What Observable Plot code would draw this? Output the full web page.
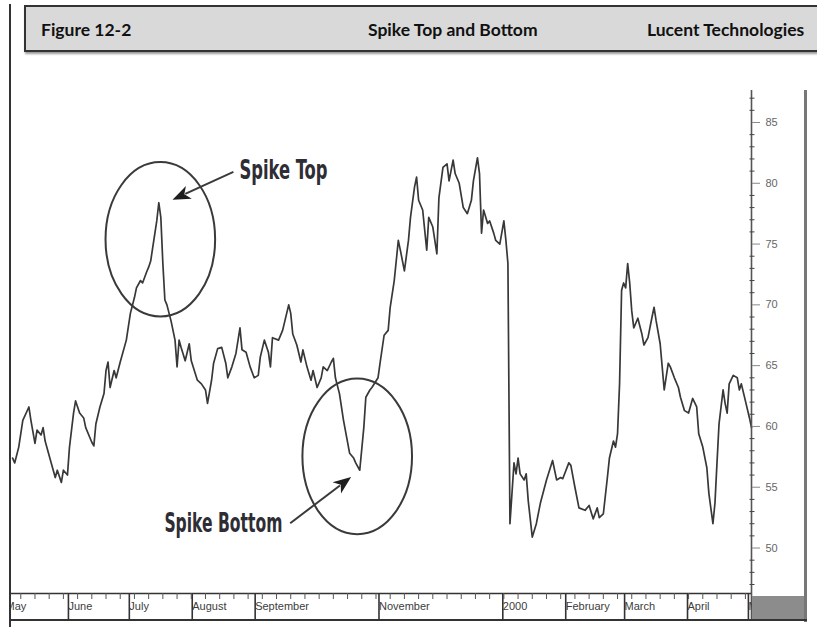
<!DOCTYPE html>
<html><head><meta charset="utf-8">
<script src="https://cdn.jsdelivr.net/npm/d3@7"></script>
<script src="https://cdn.jsdelivr.net/npm/@observablehq/plot@0.6"></script>
<style>
body{margin:0;background:#fff;}
#wrap{position:relative;width:817px;height:627px;overflow:hidden;background:#fff;}
#hdr{position:absolute;left:24px;top:5px;width:820px;height:43px;background:#d9d9d9;border:2px solid #333;box-shadow:1px 2px 2px #999;}
.ht{position:absolute;top:19px;font-family:Lato,"Open Sans",sans-serif;font-weight:700;font-size:17.5px;color:#111;line-height:22px;white-space:nowrap;}
#chart{position:absolute;left:0;top:60px;}
.blk{position:absolute;}
</style></head><body>
<div id="wrap">
  <div id="hdr"></div>
  <div class="ht" style="left:41px">Figure 12-2</div>
  <div class="ht" style="left:368px">Spike Top and Bottom</div>
  <div class="ht" style="left:647px">Lucent Technologies</div>
  <div id="chart"></div>
  <div class="blk" style="left:0;top:0;width:9px;height:627px;background:#fff"></div>
  <div class="blk" style="left:9px;top:4px;width:2px;height:623px;background:#333"></div>
  <div class="blk" style="left:752px;top:596px;width:53px;height:24px;background:#8c8c8c"></div>
  <div class="blk" style="left:804px;top:90px;width:3px;height:532px;background:#777"></div>
  <div class="blk" style="left:9px;top:619px;width:798px;height:2px;background:#333"></div>
</div>
<script>
// ---- data (Lucent Technologies daily close) ----
const dates = [
"1999-05-06","1999-05-07","1999-05-09","1999-05-11","1999-05-14","1999-05-15","1999-05-17","1999-05-18","1999-05-20","1999-05-21",
"1999-05-22","1999-05-25","1999-05-27","1999-05-28","1999-05-30","1999-05-31","1999-06-02","1999-06-03","1999-06-05","1999-06-06",
"1999-06-08","1999-06-10","1999-06-11","1999-06-14","1999-06-15","1999-06-16","1999-06-18","1999-06-20","1999-06-21","1999-06-22",
"1999-06-23","1999-06-25","1999-06-26","1999-06-28","1999-07-01","1999-07-03","1999-07-05","1999-07-06","1999-07-08","1999-07-09",
"1999-07-11","1999-07-12","1999-07-13","1999-07-14","1999-07-16","1999-07-17","1999-07-18","1999-07-19","1999-07-20","1999-07-21",
"1999-07-23","1999-07-25","1999-07-26","1999-07-27","1999-07-28","1999-07-30","1999-08-01","1999-08-02","1999-08-05","1999-08-07",
"1999-08-09","1999-08-10","1999-08-12","1999-08-13","1999-08-15","1999-08-17","1999-08-19","1999-08-20","1999-08-22","1999-08-24",
"1999-08-26","1999-08-27","1999-08-29","1999-08-31","1999-09-02","1999-09-04","1999-09-05","1999-09-07","1999-09-09","1999-09-10",
"1999-09-11","1999-09-14","1999-09-16","1999-09-19","1999-09-20","1999-09-21","1999-09-23","1999-09-25","1999-09-26","1999-09-28",
"1999-09-30","1999-10-01","1999-10-03","1999-10-05","1999-10-06","1999-10-08","1999-10-10","1999-10-11","1999-10-12","1999-10-14",
"1999-10-16","1999-10-19","1999-10-21","1999-10-22","1999-10-24","1999-10-26","1999-10-27","1999-10-29","1999-10-30","1999-11-02",
"1999-11-03","1999-11-05","1999-11-07","1999-11-08","1999-11-10","1999-11-12","1999-11-13","1999-11-15","1999-11-17","1999-11-18",
"1999-11-20","1999-11-21","1999-11-22","1999-11-24","1999-11-26","1999-11-27","1999-11-29","1999-12-01","1999-12-02","1999-12-04",
"1999-12-06","1999-12-07","1999-12-09","1999-12-10","1999-12-12","1999-12-14","1999-12-16","1999-12-18","1999-12-19","1999-12-21",
"1999-12-22","1999-12-23","1999-12-24","1999-12-26","1999-12-27","1999-12-29","1999-12-30","2000-01-01","2000-01-03","2000-01-04",
"2000-01-05","2000-01-06","2000-01-07","2000-01-08","2000-01-09","2000-01-10","2000-01-11","2000-01-13","2000-01-14","2000-01-15",
"2000-01-17","2000-01-19","2000-01-21","2000-01-24","2000-01-27","2000-01-29","2000-01-31","2000-02-01","2000-02-04","2000-02-05",
"2000-02-07","2000-02-09","2000-02-12","2000-02-14","2000-02-16","2000-02-18","2000-02-19","2000-02-21","2000-02-23","2000-02-24",
"2000-02-26","2000-02-27","2000-02-28","2000-02-29","2000-03-01","2000-03-02","2000-03-03","2000-03-04","2000-03-05","2000-03-06",
"2000-03-07","2000-03-09","2000-03-11","2000-03-12","2000-03-14","2000-03-16","2000-03-17","2000-03-18","2000-03-20","2000-03-21",
"2000-03-22","2000-03-24","2000-03-25","2000-03-27","2000-03-29","2000-03-30","2000-04-01","2000-04-03","2000-04-05","2000-04-07",
"2000-04-08","2000-04-10","2000-04-12","2000-04-13","2000-04-15","2000-04-16","2000-04-17","2000-04-18","2000-04-20","2000-04-21",
"2000-04-22","2000-04-23","2000-04-25","2000-04-27","2000-04-28","2000-04-29","2000-05-01","2000-05-03","2000-05-04"
];
const prices = [
57.4,57.0,58.3,60.5,61.6,60.5,58.6,59.7,59.3,59.9,
58.8,57.0,55.8,56.4,55.4,56.4,56.0,58.3,61.1,62.1,
61.1,60.7,59.9,58.7,58.4,60.2,61.6,62.7,64.6,65.3,
63.2,64.6,64.0,65.3,67.1,69.3,70.6,71.4,72.0,71.8,
72.7,73.1,73.6,74.7,76.9,78.4,77.2,73.4,70.4,70.0,
68.7,67.1,64.9,67.1,66.5,65.4,66.8,65.4,63.8,63.5,
63.0,61.9,63.8,65.2,66.4,66.5,65.2,64.0,64.9,66.0,
68.1,66.3,66.1,64.9,64.0,64.2,65.7,67.1,66.1,64.9,
67.3,67.1,67.9,70.0,69.3,67.6,66.7,65.3,66.3,64.9,
63.8,64.6,63.2,64.0,64.9,64.6,65.3,65.6,64.0,62.7,
60.5,57.8,57.4,57.0,56.4,59.9,62.4,63.0,63.2,64.0,
65.2,67.5,67.9,69.8,72.0,75.3,74.5,72.8,75.3,77.2,
79.7,80.5,78.6,77.8,74.5,77.2,76.4,74.2,78.8,81.3,
81.6,80.2,81.9,80.8,80.0,78.0,77.5,78.6,80.2,82.1,
80.8,75.9,77.8,76.7,76.9,75.9,75.3,75.0,76.9,75.3,
73.4,52.0,54.5,57.0,56.1,57.4,56.1,55.6,56.1,53.9,
50.9,52.0,53.7,55.6,57.2,55.6,55.8,55.7,57.0,56.8,
55.0,53.3,53.1,53.5,52.4,53.3,52.5,52.8,55.8,57.4,
58.8,58.3,59.4,63.5,71.2,71.8,71.4,73.4,71.8,69.5,
68.1,68.9,67.6,66.7,67.3,69.0,69.8,68.7,66.8,64.9,
63.0,65.2,64.9,64.0,63.2,62.4,61.3,61.1,62.3,61.6,
59.4,58.3,56.6,54.5,52.0,53.7,57.0,60.2,63.0,61.9,
61.1,63.5,64.2,64.0,63.0,63.5,62.1,60.7,59.9
];
const monthTickDates = ["1999-05-01","1999-06-01","1999-07-01","1999-08-01","1999-09-01","1999-11-01","2000-01-01","2000-02-01","2000-03-01","2000-04-01","2000-05-01"];
const monthTickLabels = ["May","June","July","August","September","November","2000","February","March","April","May"];
const priceTicks = [50,55,60,65,70,75,80,85];
const minorPriceTicks = [47,48,49,51,52,53,54,56,57,58,59,61,62,63,64,66,67,68,69,71,72,73,74,76,77,78,79,81,82,83,84,86,87];
// annotation anchors (data coordinates)
const ellipses = [
  {x1:"1999-06-21", x2:"1999-08-14", y1:69.0, y2:81.7},
  {x1:"1999-09-26", x2:"1999-11-19", y1:51.1, y2:63.9}
];
const arrows = [
  {fromDate:"1999-08-23", fromPrice:80.9, toDate:"1999-07-24", toPrice:78.6},
  {fromDate:"1999-09-20", fromPrice:52.0, toDate:"1999-10-20", toPrice:55.8}
];
const notes = [
  {date:"1999-08-26", price:80.3, text:"Spike Top", len:88},
  {date:"1999-07-20", price:51.3, text:"Spike Bottom", len:118}
];

const data = dates.map((d, i) => ({date: new Date(d), price: prices[i]}));
const x0 = new Date("1999-05-01"), x1 = new Date("2000-05-04");
const labelMap = new Map(monthTickDates.map((d, i) => [+new Date(d), monthTickLabels[i]]));

const plot = Plot.plot({
  width: 817, height: 567,
  marginLeft: 2, marginRight: 66, marginTop: 30, marginBottom: 34,
  x: {type: "utc", domain: [x0, x1], label: null},
  y: {domain: [46.26, 87.63], label: null},
  style: {background: "transparent", fontFamily: "'Liberation Sans', Arial, sans-serif", overflow: "visible"},
  marks: [
    Plot.line(data, {x: "date", y: "price", stroke: "#383838", strokeWidth: 1.7, strokeLinejoin: "round"}),
    Plot.ruleY([46.26], {stroke: "#333", strokeWidth: 1.6}),
    Plot.ruleX([x1], {stroke: "#555", strokeWidth: 1.6, insetBottom: -27}),
    Plot.axisY({anchor: "right", ticks: priceTicks, tickSize: 8, tickPadding: 6, fontSize: 11, stroke: "#888", fill: "#666", tickFormat: d => String(d)}),
    Plot.axisY({anchor: "right", ticks: minorPriceTicks, tickSize: 5, dx: -2.5, stroke: "#444", tickFormat: () => ""}),
    Plot.axisX({anchor: "bottom", ticks: monthTickDates.map(d => new Date(d)), tickSize: 27, tickPadding: -14,
      lineAnchor: "middle", textAnchor: "start", dx: 3, fontSize: 11, stroke: "#333", strokeWidth: 1.6, fill: "#3c3c3c",
      tickFormat: d => labelMap.get(+d)}),
    Plot.axisX({anchor: "bottom", ticks: d3.utcMonday.range(x0, x1), tickSize: 6, stroke: "#555", tickFormat: () => ""})
  ]
});
document.getElementById("chart").appendChild(plot);

// annotations via the plot's own scales
const xs = plot.scale("x"), ys = plot.scale("y");
const X = d => xs.apply(new Date(d)), Y = v => ys.apply(v);
const g = d3.select(plot).append("g").attr("text-anchor", "start");
for (const e of ellipses) {
  const a = X(e.x1), b = X(e.x2), c = Y(e.y1), d = Y(e.y2);
  g.append("ellipse").attr("cx", (a + b) / 2).attr("cy", (c + d) / 2)
    .attr("rx", Math.abs(b - a) / 2).attr("ry", Math.abs(c - d) / 2)
    .attr("fill", "none").attr("stroke", "#3a3a3a").attr("stroke-width", 2);
}
for (const ar of arrows) {
  const ax = X(ar.fromDate), ay = Y(ar.fromPrice), bx = X(ar.toDate), by = Y(ar.toPrice);
  const L = Math.hypot(bx - ax, by - ay), ux = (bx - ax) / L, uy = (by - ay) / L;
  const hl = 18, hw = 7;
  const cx = bx - ux * hl, cy = by - uy * hl;
  g.append("line").attr("x1", ax).attr("y1", ay).attr("x2", cx + ux * 4).attr("y2", cy + uy * 4)
    .attr("stroke", "#3a3a3a").attr("stroke-width", 2);
  g.append("path")
    .attr("d", `M${bx},${by}L${cx - uy * hw},${cy + ux * hw}L${cx + ux * 5},${cy + uy * 5}L${cx + uy * hw},${cy - ux * hw}Z`)
    .attr("fill", "#1e1e1e");
}
for (const n of notes) {
  g.append("text").attr("x", X(n.date)).attr("y", Y(n.price))
    .attr("text-anchor", "start")
    .attr("font-family", "'Liberation Sans Narrow','DejaVu Sans Condensed',Arial,sans-serif")
    .attr("font-weight", 700).attr("font-size", 26).attr("fill", "#2e2d33")
    .attr("textLength", n.len).attr("lengthAdjust", "spacingAndGlyphs")
    .text(n.text);
}
</script>
</body></html>
